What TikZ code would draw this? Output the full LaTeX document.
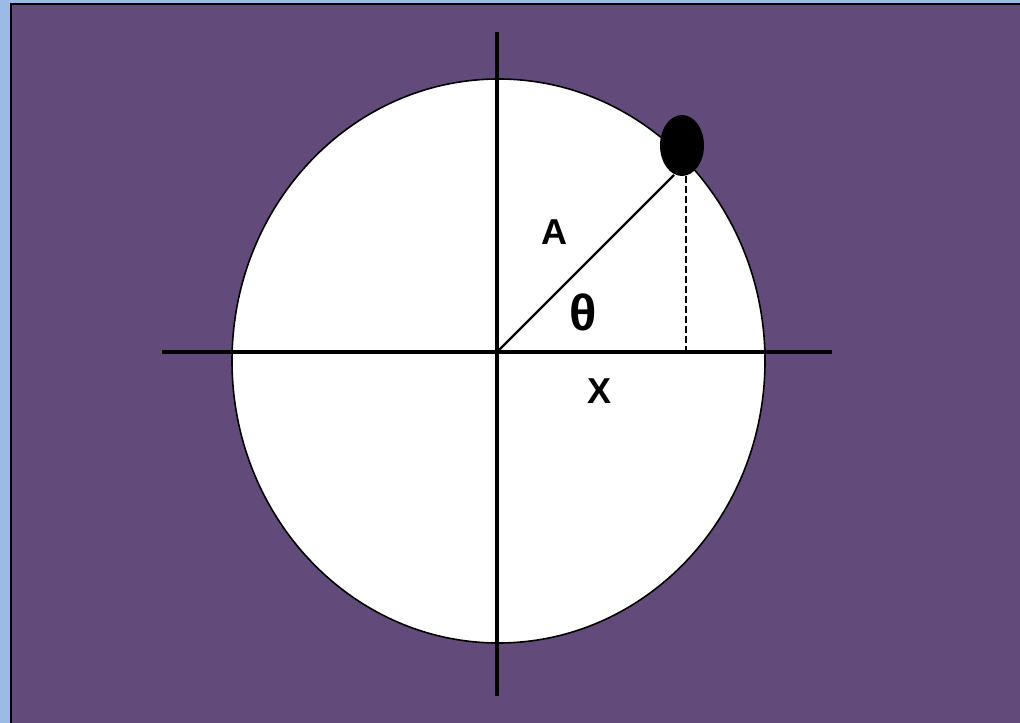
\documentclass[tikz,border=0pt]{standalone}
\usepackage{fontspec}
\setmainfont{Liberation Sans}
\usetikzlibrary{shapes.geometric}
\definecolor{bgblue}{RGB}{155,187,230}
\definecolor{bgpurple}{RGB}{98,75,122}
\begin{document}
\begin{tikzpicture}[x=0.75pt,y=-0.75pt,
  axis/.style={line width=3.6pt},
  lbl/.style={font=\fontsize{27}{27}\selectfont\bfseries, inner sep=0pt}]
\useasboundingbox (0,0) rectangle (1020,723);
\fill[bgblue] (0,0) rectangle (1020,723);
\fill[bgpurple] (11,4) rectangle (1020,723);
\draw[line width=1.6pt] (11,723) -- (11,4) -- (1020,4);
% circle
\node[draw, ellipse, fill=white, line width=1.2pt, inner sep=0pt,
      minimum width=399.75pt, minimum height=423pt] (circ) at (498.5,361) {};
% axes
\coordinate (vt) at (497,32);
\coordinate (vb) at (497,696);
\coordinate (hl) at (162,352);
\coordinate (hr) at (832,352);
\coordinate (O) at (497,352);
\draw[axis] (vt) -- (vb);
\draw[axis] (hl) -- (hr);
% dot
\node[ellipse, fill=black, inner sep=0pt, minimum width=33pt, minimum height=45.75pt] (dot) at (682,145.5) {};
\coordinate (P) at (674,175);
\coordinate (Dt) at (686,176);
\coordinate (Db) at (686,350);
\draw[line width=1.7pt] (O) -- (P);
\draw[line width=1.2pt, dash pattern=on 5.25pt off 2.25pt] (Dt) -- (Db);
% labels
\node[lbl] (lA) at (554.3,232.5) {A};
\node[lbl, font=\fontsize{38}{38}\selectfont\bfseries] (lth) at (583,312.5) {θ};
\node[lbl] (lx) at (599,391) {X};
\end{tikzpicture}
\end{document}
